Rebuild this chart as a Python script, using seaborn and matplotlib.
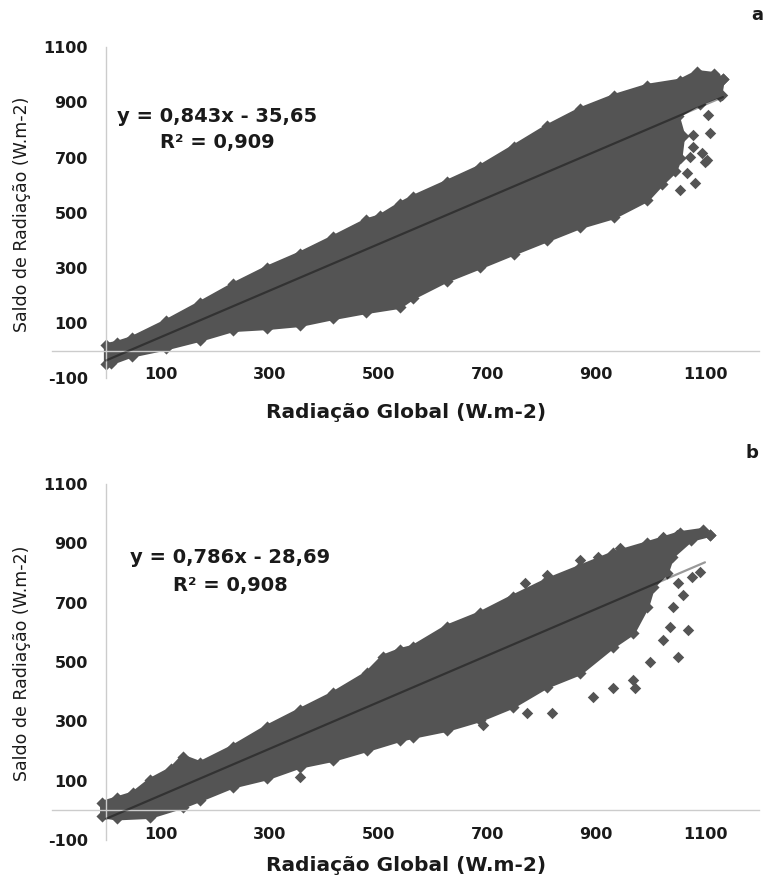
import numpy as np
import matplotlib
matplotlib.use("Agg")
import matplotlib.pyplot as plt
import seaborn as sns

sns.set_theme(style="white")
plt.rcParams["font.family"] = ["DejaVu Sans"]
plt.rcParams["axes.unicode_minus"] = False

# ---- panel a: outline of the point cloud (W.m-2) ----
a_upper_x = [0, 20, 47, 110, 172, 234, 295, 356, 417, 478, 503, 540, 564, 626, 687,
             749, 810, 871, 933, 994, 1055, 1086, 1116, 1133]
a_upper_y = [20, 28, 45, 106, 172, 240, 300, 352, 411, 472, 487, 532, 557, 612, 667,
             740, 813, 875, 923, 960, 979, 1010, 1003, 985]
a_lower_x = [1133, 1128, 1090, 1050, 1060, 1055, 1045, 1022, 994, 933, 871, 810, 749,
             687, 626, 564, 540, 478, 417, 356, 295, 234, 172, 110, 47, 10, 0]
a_lower_y = [985, 925, 895, 850, 780, 700, 650, 606, 546, 484, 448, 400, 352,
             302, 254, 192, 159, 140, 118, 93, 82, 75, 39, 8, -18, -45, -50]
a_out_x = [1106, 1109, 1078, 1095, 1100, 1073, 1082, 1054, 1067, 1078, 1131, 1104]
a_out_y = [854, 789, 739, 717, 684, 702, 608, 583, 644, 782, 927, 691]
a_slope, a_intercept, a_r2 = 0.843, -35.65, 0.909
a_line_end = 1133

# ---- panel b ----
b_upper_x = [-7, 20, 50, 81, 120, 141, 173, 233, 296, 356, 417, 479, 509, 540, 564,
             626, 687, 747, 810, 871, 931, 994, 1054, 1096, 1109]
b_upper_y = [25, 40, 57, 102, 140, 181, 159, 214, 282, 338, 394, 462, 518, 540, 551,
             619, 664, 720, 776, 821, 866, 900, 934, 945, 928]
b_lower_x = [1109, 1075, 1040, 1030, 1005, 994, 968, 931, 871, 810, 747, 687, 626,
             564, 540, 479, 417, 356, 296, 233, 173, 141, 81, 20, -7]
b_lower_y = [928, 912, 855, 800, 754, 686, 597, 551, 462, 417, 349, 304, 271,
             248, 237, 203, 170, 147, 108, 80, 35, 12, -22, -27, -20]
b_out_x = [692, 773, 819, 894, 931, 972, 968, 999, 1050, 1069, 1060, 1091, 1036, 1023,
           1041, 1076, 1050, 871, 904, 810, 770, 944, 1023, 1049, 356]
b_out_y = [288, 329, 329, 382, 412, 412, 439, 500, 517, 608, 726, 803, 618, 575,
           686, 787, 766, 844, 854, 793, 766, 884, 921, 928, 113]
b_slope, b_intercept, b_r2 = 0.786, -28.69, 0.908
b_line_end = 1100

x_ticks = [100, 300, 500, 700, 900, 1100]
y_ticks = [-100, 100, 300, 500, 700, 900, 1100]

CLOUD = "#545454"
AXIS = "#cccccc"
TEXT = "#1a1a1a"


def fmt(v, nd):
    return f"{v:.{nd}f}".replace(".", ",")


def draw_panel(ax, ux, uy, lx, ly, ox, oy, slope, intercept, x_end):
    px = list(ux) + list(lx)
    py = list(uy) + list(ly)
    ax.fill(px, py, color=CLOUD, ec=CLOUD, lw=3, zorder=2)
    sns.scatterplot(x=px, y=py, marker="D", s=38, color=CLOUD, linewidth=0,
                    ax=ax, zorder=2)
    sns.scatterplot(x=ox, y=oy, marker="D", s=34, color=CLOUD, linewidth=0,
                    ax=ax, zorder=2)
    lx_ = [0, x_end]
    ly_ = [slope * v + intercept for v in lx_]
    sns.lineplot(x=lx_, y=ly_, color="black", alpha=0.4, lw=1.6, ax=ax, zorder=3)

    ax.set_xlim(-100, 1200)
    ax.set_ylim(-100, 1100)
    for s in ("top", "right"):
        ax.spines[s].set_visible(False)
    for s in ("left", "bottom"):
        ax.spines[s].set_position(("data", 0))
        ax.spines[s].set_color(AXIS)
        ax.spines[s].set_linewidth(1)
    ax.set_xticks(x_ticks)
    ax.set_yticks(y_ticks)
    ax.tick_params(axis="both", colors=AXIS, labelcolor=TEXT, length=4, width=1,
                   direction="out", labelsize=11.5)
    ax.tick_params(axis="y", pad=9)
    ax.tick_params(axis="x", pad=8)
    for t in ax.get_xticklabels() + ax.get_yticklabels():
        t.set_fontweight("bold")
    ax.set_xlabel("")
    ax.set_ylabel("")
    ax.grid(False)


fig = plt.figure(figsize=(7.63, 8.75), dpi=100)
ax_a = fig.add_axes([0.0675, 0.5677, 0.9278, 0.3783])
ax_b = fig.add_axes([0.0675, 0.04, 0.9278, 0.4069])

draw_panel(ax_a, a_upper_x, a_upper_y, a_lower_x, a_lower_y, a_out_x, a_out_y,
           a_slope, a_intercept, a_line_end)
draw_panel(ax_b, b_upper_x, b_upper_y, b_lower_x, b_lower_y, b_out_x, b_out_y,
           b_slope, b_intercept, b_line_end)

eq_kw = dict(ha="center", va="center", fontsize=14, fontweight="bold", color=TEXT)
fig.text(0.2844, 0.8663, f"y = {fmt(a_slope, 3)}x - {fmt(-a_intercept, 2)}", **eq_kw)
fig.text(0.2844, 0.8377, f"R² = {fmt(a_r2, 3)}", **eq_kw)
fig.text(0.3014, 0.3623, f"y = {fmt(b_slope, 3)}x - {fmt(-b_intercept, 2)}", **eq_kw)
fig.text(0.3014, 0.3314, f"R² = {fmt(b_r2, 3)}", **eq_kw)

xt_kw = dict(ha="center", va="center", fontsize=14.5, fontweight="bold", color=TEXT)
fig.text(0.532, 0.528, "Radiação Global (W.m-2)", **xt_kw)
fig.text(0.532, 0.0103, "Radiação Global (W.m-2)", **xt_kw)

yt_kw = dict(ha="center", va="center", rotation=90, fontsize=12.5, color=TEXT)
fig.text(0.0288, 0.7554, "Saldo de Radiação (W.m-2)", **yt_kw)
fig.text(0.0288, 0.2423, "Saldo de Radiação (W.m-2)", **yt_kw)

fig.text(0.992, 0.983, "a", ha="center", va="center", fontsize=13, fontweight="bold",
         color=TEXT)
fig.text(0.9856, 0.4823, "b", ha="center", va="center", fontsize=13, fontweight="bold",
         color=TEXT)

fig.savefig("out.png", dpi=100, facecolor="white")
